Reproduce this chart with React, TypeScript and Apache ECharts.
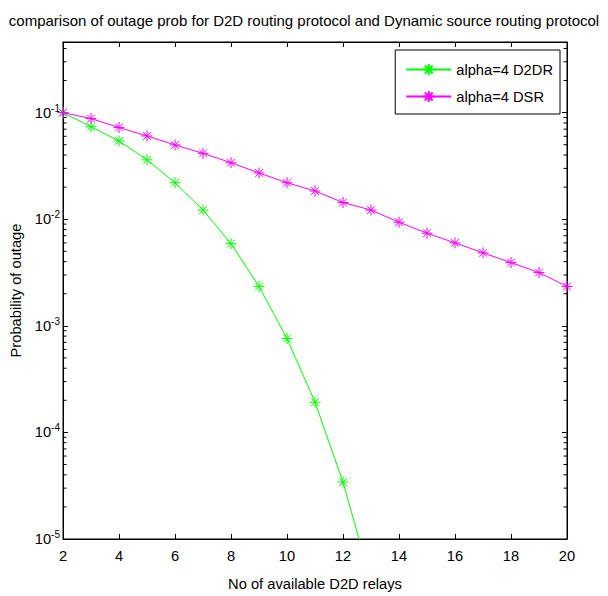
import React, { useEffect, useRef } from 'react';
import * as echarts from 'echarts';

const FONT = '"Liberation Sans", Arial, Helvetica, sans-serif';
const STAR = 'path://M0,-10 L0,10 M-10,0 L10,0 M-7,-7 L7,7 M-7,7 L7,-7';

const TITLE = 'comparison of outage prob for D2D routing protocol and Dynamic source routing protocol';
const X_NAME = 'No of available D2D relays';
const Y_NAME = 'Probability of outage';
const SERIES_NAMES = ['alpha=4 D2DR', 'alpha=4 DSR'];

const X_MIN = 2;
const X_MAX = 20;
const X_INTERVAL = 2;
const Y_MIN = 1e-5;
const Y_MAX = 0.46;

const relays = [2, 3, 4, 5, 6, 7, 8, 9, 10, 11, 12, 13, 14, 15, 16, 17, 18, 19, 20];
const d2drRelays = [2, 3, 4, 5, 6, 7, 8, 9, 10, 11, 12, 13];
const d2dr = [0.1, 0.0738, 0.0542, 0.0361, 0.022, 0.0122, 0.0059, 0.00234, 0.00076, 0.000192, 0.0000342, 0.000004];
const dsr = [0.1, 0.088, 0.0726, 0.0604, 0.0498, 0.0415, 0.0339, 0.0272, 0.022, 0.0184, 0.01435, 0.0122, 0.00937, 0.0074, 0.006, 0.00484, 0.00392, 0.00316, 0.00234];

// MATLAB-style minor ticks at 2..9 x each decade
const minorTicks: number[] = [];
for (let d = -5; d <= -1; d++) {
  for (let k = 2; k <= 9; k++) {
    const v = k * Math.pow(10, d);
    if (v < Y_MAX) minorTicks.push(v);
  }
}

const FS = 14.7;

export default function App() {
  const ref = useRef<HTMLDivElement>(null);
  useEffect(() => {
    if (!ref.current) return;
    const chart = echarts.init(ref.current, undefined, { renderer: 'svg' });
    const axisText = { fontFamily: FONT, fontSize: FS, color: '#000' };
    const option: any = {
      animation: false,
      backgroundColor: '#fff',
      title: {
        text: TITLE,
        left: 'center',
        top: 8,
        padding: [5, 0, 5, 12],
        textStyle: { fontFamily: FONT, fontSize: 15, fontWeight: 'normal', color: '#000' },
      },
      legend: {
        data: SERIES_NAMES,
        orient: 'vertical',
        right: 48,
        top: 50,
        itemWidth: 45,
        itemHeight: 14,
        itemGap: 12,
        padding: [12, 7, 10, 10],
        borderColor: '#000',
        borderWidth: 1,
        backgroundColor: '#fff',
        textStyle: axisText,
      },
      grid: {
        left: 63,
        right: 41,
        top: 42,
        bottom: 50,
        show: true,
        borderColor: '#000',
        borderWidth: 1,
        backgroundColor: '#fff',
      },
      xAxis: [
        {
          type: 'value',
          min: X_MIN,
          max: X_MAX,
          interval: X_INTERVAL,
          position: 'bottom',
          name: X_NAME,
          nameLocation: 'middle',
          nameGap: 37,
          nameTextStyle: axisText,
          axisLine: { show: true, lineStyle: { color: '#000', width: 1 } },
          axisTick: { show: true, inside: true, length: 5, lineStyle: { color: '#000' } },
          axisLabel: { ...axisText, margin: 9 },
          splitLine: { show: false },
        },
        {
          type: 'value',
          min: X_MIN,
          max: X_MAX,
          interval: X_INTERVAL,
          position: 'top',
          axisLine: { show: true, lineStyle: { color: '#000', width: 1 } },
          axisTick: { show: true, inside: true, length: 5, lineStyle: { color: '#000' } },
          axisLabel: { show: false },
          splitLine: { show: false },
        },
      ],
      yAxis: [
        {
          type: 'log',
          logBase: 10,
          min: Y_MIN,
          max: Y_MAX,
          position: 'left',
          name: Y_NAME,
          nameLocation: 'middle',
          nameGap: 38,
          nameTextStyle: axisText,
          axisLine: { show: true, lineStyle: { color: '#000', width: 1 } },
          axisTick: { show: true, inside: true, length: 5, lineStyle: { color: '#000' } },
          axisLabel: {
            margin: 3,
            formatter: (v: number) => {
              const e = Math.log10(v);
              if (Math.abs(e - Math.round(e)) > 1e-6) return '';
              return `{b|10}{s|${Math.round(e)}}`;
            },
            rich: {
              b: { fontFamily: FONT, fontSize: FS, color: '#000' },
              s: { fontFamily: FONT, fontSize: 10, color: '#000', padding: [0, 0, 9, 0] },
            },
          },
          splitLine: { show: false },
        },
        {
          type: 'log',
          logBase: 10,
          min: Y_MIN,
          max: Y_MAX,
          position: 'right',
          axisLine: { show: true, lineStyle: { color: '#000', width: 1 } },
          axisTick: { show: true, inside: true, length: 5, lineStyle: { color: '#000' } },
          axisLabel: { show: false },
          splitLine: { show: false },
        },
      ],
      series: [
        {
          name: SERIES_NAMES[0],
          type: 'line',
          xAxisIndex: 0,
          yAxisIndex: 0,
          data: d2drRelays.map((x, i) => [x, d2dr[i]]),
          symbol: STAR,
          symbolSize: 11,
          symbolKeepAspect: true,
          showAllSymbol: true,
          color: '#00ff00',
          lineStyle: { color: '#00ff00', width: 1 },
          itemStyle: { color: '#00ff00', borderColor: '#00ff00', borderWidth: 1 },
          clip: true,
        },
        {
          name: SERIES_NAMES[1],
          type: 'line',
          xAxisIndex: 0,
          yAxisIndex: 0,
          data: relays.map((x, i) => [x, dsr[i]]),
          symbol: STAR,
          symbolSize: 11,
          symbolKeepAspect: true,
          showAllSymbol: true,
          color: '#ff00ff',
          lineStyle: { color: '#ff00ff', width: 1 },
          itemStyle: { color: '#ff00ff', borderColor: '#ff00ff', borderWidth: 1 },
          clip: true,
        },
        {
          type: 'custom',
          xAxisIndex: 0,
          yAxisIndex: 0,
          silent: true,
          clip: false,
          data: minorTicks.map((v) => [X_MIN, v]),
          renderItem: (params: any, api: any) => {
            const v = api.value(1);
            const pL = api.coord([X_MIN, v]);
            const pR = api.coord([X_MAX, v]);
            const style = { stroke: '#000', lineWidth: 1 };
            return {
              type: 'group',
              children: [
                { type: 'line', shape: { x1: pL[0], y1: pL[1], x2: pL[0] + 3.5, y2: pL[1] }, style },
                { type: 'line', shape: { x1: pR[0], y1: pR[1], x2: pR[0] - 3.5, y2: pR[1] }, style },
              ],
            };
          },
        },
      ],
    };
    chart.setOption(option);
    return () => chart.dispose();
  }, []);
  return (
    <div
      ref={ref}
      style={{ position: 'absolute', left: 0, top: 0, width: 608, height: 596, background: '#fff' }}
    />
  );
}
